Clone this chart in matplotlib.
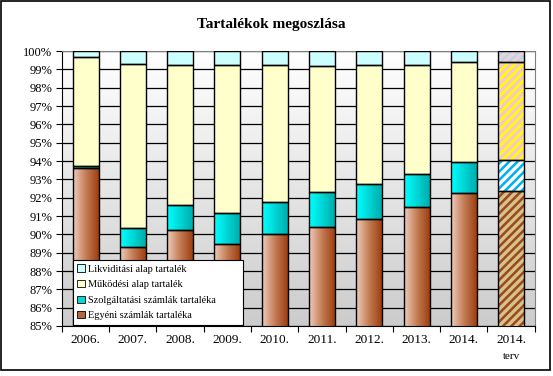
import numpy as np
import matplotlib
matplotlib.use("Agg")
import matplotlib.pyplot as plt
from matplotlib.colors import LinearSegmentedColormap
from matplotlib.patches import Rectangle, Patch

plt.rcParams['font.family'] = ['Liberation Serif', 'DejaVu Serif']
plt.rcParams['hatch.linewidth'] = 2.4

# data (shares, %)
years = ['2006.', '2007.', '2008.', '2009.', '2010.', '2011.', '2012.', '2013.', '2014.', '2014.\nterv']
egyeni = [93.60, 89.29, 90.23, 89.47, 90.00, 90.38, 90.82, 91.47, 92.24, 92.35]
szolg = [0.11, 1.04, 1.37, 1.68, 1.74, 1.91, 1.91, 1.80, 1.69, 1.69]
mukodesi = [5.95, 8.96, 7.67, 8.07, 7.48, 6.89, 6.51, 6.00, 5.45, 5.34]
likvid = [100 - a - b - c for a, b, c in zip(egyeni, szolg, mukodesi)]

series = ['Egyéni számlák tartaléka', 'Szolgáltatási számlák tartaléka',
          'Működési alap tartalék', 'Likviditási alap tartalék']
values = [egyeni, szolg, mukodesi, likvid]
face = ['#b5653a', '#00dede', '#ffffcc', '#ccffff']
grads = [LinearSegmentedColormap.from_list('br', ['#eecbba', '#c27a52', '#9a3a0c']),
         LinearSegmentedColormap.from_list('cy', ['#00ffff', '#00aaaa']),
         None, None]
terv_face = ['#9a4c18', '#00b0f0', '#ffff00', '#b8d8e8']
terv_hatch = ['#d8c090', '#ffffff', '#f8c8c8', '#f0d0d8']

fig = plt.figure(figsize=(5.53, 3.76), dpi=100)
ax = fig.add_axes([0.112, 0.133, 0.855, 0.731])

# plot area background gradient
bg = np.linspace(1, 0, 256).reshape(-1, 1)
ax.imshow(bg, cmap=LinearSegmentedColormap.from_list('bg', ['#cccccc', '#ffffff']),
          extent=[0, 1, 0, 1], transform=ax.transAxes, aspect='auto', zorder=0)

x = np.arange(len(years))
w = 0.55
bottom = np.zeros(len(years))
hgrad = np.linspace(0, 1, 64).reshape(1, -1)
for vals, fc, cm, tf, th in zip(values, face, grads, terv_face, terv_hatch):
    vals = np.array(vals)
    for i in range(len(years)):
        y0 = bottom[i]
        if i == len(years) - 1:
            ax.bar(x[i], vals[i], w, bottom=y0, color=tf, linewidth=0, zorder=2)
            ax.bar(x[i], vals[i], w, bottom=y0, facecolor='none', edgecolor=th,
                   hatch='////', linewidth=0, zorder=3)
        elif cm is not None:
            ax.imshow(hgrad, cmap=cm, extent=[x[i] - w / 2, x[i] + w / 2, y0, y0 + vals[i]],
                      aspect='auto', zorder=2)
        else:
            ax.bar(x[i], vals[i], w, bottom=y0, color=fc, linewidth=0, zorder=2)
        ax.bar(x[i], vals[i], w, bottom=y0, facecolor='none', edgecolor='black',
               linewidth=1.0, zorder=4)
    bottom += vals

ax.set_xlim(-0.5, len(years) - 0.5)
ax.set_ylim(85, 100)
ax.set_yticks(np.arange(85, 101, 1))
ax.set_yticklabels([f'{v}%' for v in range(85, 101)], fontsize=9)
ax.yaxis.grid(True, color='black', linewidth=0.9, zorder=1)
ax.set_axisbelow(True)

# year labels centred under bars, second line (e.g. "terv") smaller
ax.set_xticks(np.arange(-0.5, len(years), 1))
ax.set_xticklabels([])
ax.set_xticks(x, minor=True)
ax.set_xticklabels([y.split('\n')[0] for y in years], minor=True, fontsize=9.5)
for xi, y in zip(x, years):
    if '\n' in y:
        ax.annotate(y.split('\n')[1], xy=(xi, 0), xycoords=('data', 'axes fraction'),
                    xytext=(0, -18.5), textcoords='offset points', ha='center', va='top',
                    fontsize=8)
ax.tick_params(axis='x', which='minor', length=0, pad=6)
ax.tick_params(axis='x', which='major', length=4, width=0.8)
ax.tick_params(axis='y', length=4, width=0.8, pad=3)
for s in ax.spines.values():
    s.set_color('#808080')
ax.spines['bottom'].set_color('black')
ax.spines['left'].set_color('black')

handles = [Patch(facecolor=c, edgecolor='black', linewidth=0.6)
           for c in ['#ccffff', '#ffffcc', '#00d8d8', '#b5653a']]
leg = ax.legend(handles, series[::-1], loc='lower left', bbox_to_anchor=(0.023, 0.004, 0.36, 0.25),
                mode='expand', fontsize=7.4, frameon=True, fancybox=False, edgecolor='black',
                framealpha=1, handlelength=0.7, handleheight=0.7, handletextpad=0.3,
                borderpad=0.45, labelspacing=0.62, borderaxespad=0.0)
leg.get_frame().set_linewidth(0.8)
leg.set_zorder(10)

fig.text(0.49, 0.935, 'Tartalékok megoszlása', ha='center', va='center',
         fontsize=11, fontweight='bold')
fig.patches.append(Rectangle((0.002, 0.015), 0.992, 0.982, transform=fig.transFigure,
                             fill=False, edgecolor='black', linewidth=1.2))

fig.savefig('out.png', dpi=100)
